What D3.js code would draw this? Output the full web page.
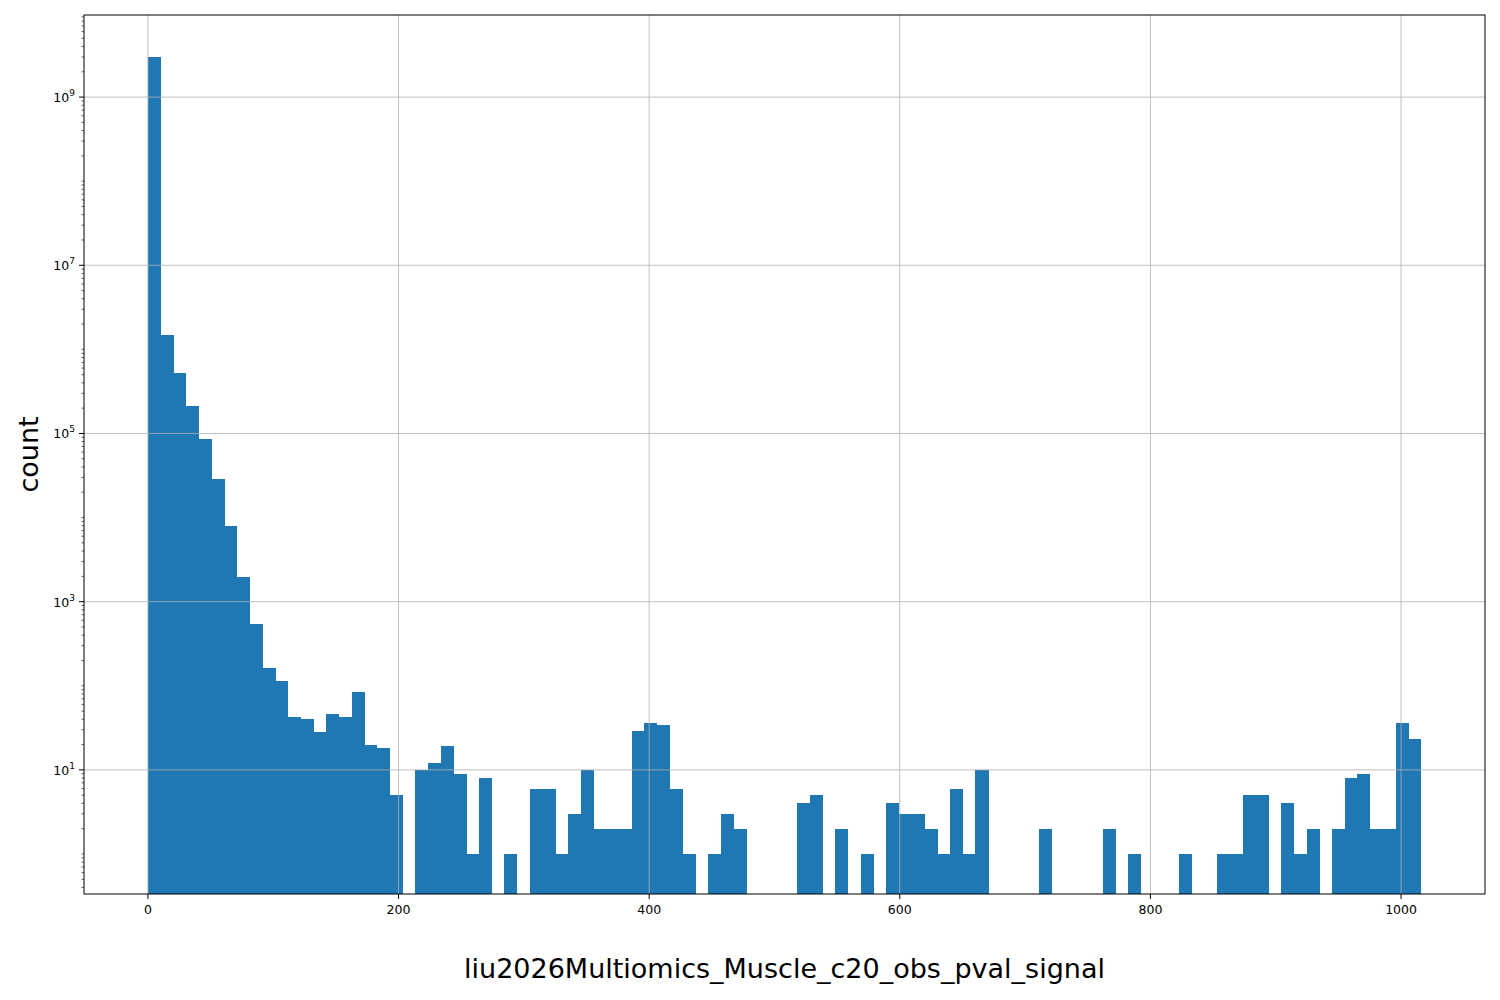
<!DOCTYPE html>
<html>
<head>
<meta charset="UTF-8">
<script src="https://cdn.jsdelivr.net/npm/d3@7"></script>
<style>body{margin:0;background:#fff}text{font-family:"DejaVu Sans",sans-serif}</style>
</head>
<body>
<script>
const binStart = 0, binWidth = 10.16;
const counts = [3e9,1.5e6,5.2e5,2.1e5,8.7e4,2.9e4,8000,1950,540,163,
 114,42,40,28,46,42,85,20,18,5,
 0,10,12,19,9,1,8,0,1,0,
 6,6,1,3,10,2,2,2,29,36,
 34,6,1,0,1,3,2,0,0,0,
 0,4,5,0,2,0,1,0,4,3,
 3,2,1,6,1,10,0,0,0,0,
 2,0,0,0,0,2,0,1,0,0,
 0,1,0,0,1,1,5,5,0,4,
 1,2,0,2,8,9,2,2,36,23];
const xTicks = [0,200,400,600,800,1000];
const yTicks = [1e1,1e3,1e5,1e7,1e9];

const W = 1500, H = 1000, m = {l:84, r:15, t:15, b:106};
const svg = d3.select('body').append('svg').attr('width', W).attr('height', H);
const x = d3.scaleLinear().domain([-51, 1067]).range([m.l, W - m.r]);
const y = d3.scaleLog().domain([10**-0.476, 10**9.976]).range([H - m.b, m.t]);

// bars
const bins = counts.map((c, i) => ({x0: binStart + i * binWidth, x1: binStart + (i + 1) * binWidth, c}));
svg.append('g').attr('shape-rendering', 'crispEdges')
  .selectAll('rect').data(bins.filter(d => d.c > 0)).join('rect')
  .attr('x', d => x(d.x0)).attr('width', d => x(d.x1) - x(d.x0) + 0.3)
  .attr('y', d => y(d.c)).attr('height', d => H - m.b - y(d.c))
  .attr('fill', '#1f77b4');

// grid (drawn above bars)
svg.append('g').selectAll('line').data(xTicks).join('line')
  .attr('x1', d => x(d)).attr('x2', d => x(d)).attr('y1', m.t).attr('y2', H - m.b)
  .attr('stroke', '#b0b0b0').attr('stroke-width', 0.8);
svg.append('g').selectAll('line').data(yTicks).join('line')
  .attr('y1', d => y(d)).attr('y2', d => y(d)).attr('x1', m.l).attr('x2', W - m.r)
  .attr('stroke', '#b0b0b0').attr('stroke-width', 0.8);

// frame
svg.append('rect').attr('x', m.l).attr('y', m.t).attr('width', W - m.l - m.r).attr('height', H - m.t - m.b)
  .attr('fill', 'none').attr('stroke', '#000').attr('stroke-width', 1);

// x ticks
const xt = svg.append('g').selectAll('g').data(xTicks).join('g').attr('transform', d => `translate(${x(d)},${H - m.b})`);
xt.append('line').attr('y2', 5).attr('stroke', '#000');
xt.append('text').attr('y', 20).attr('text-anchor', 'middle').attr('font-size', 12.5).text(d => d);

// y ticks (major + minor)
const minor = [];
for (let e = -1; e <= 10; e++) for (let k = 1; k <= 9; k++) { const v = k * 10 ** e; if (v >= y.domain()[0] && v <= y.domain()[1]) minor.push(v); }
svg.append('g').selectAll('line').data(minor.filter(v => !yTicks.includes(v))).join('line')
  .attr('x1', m.l - 2.5).attr('x2', m.l).attr('y1', d => y(d)).attr('y2', d => y(d)).attr('stroke', '#000').attr('stroke-width', 0.6);
const yt = svg.append('g').selectAll('g').data(yTicks).join('g').attr('transform', d => `translate(${m.l},${y(d)})`);
yt.append('line').attr('x2', -5).attr('stroke', '#000');
const lbl = yt.append('text').attr('x', -9).attr('y', 5).attr('text-anchor', 'end').attr('font-size', 12.5);
lbl.append('tspan').text('10');
lbl.append('tspan').attr('dy', -6).attr('font-size', 9).text(d => Math.round(Math.log10(d)));

// axis labels
svg.append('text').attr('x', (m.l + W - m.r) / 2).attr('y', 978).attr('text-anchor', 'middle')
  .attr('font-size', 27).text('liu2026Multiomics_Muscle_c20_obs_pval_signal');
svg.append('text').attr('transform', `translate(38,${(m.t + H - m.b) / 2}) rotate(-90)`).attr('text-anchor', 'middle')
  .attr('font-size', 27).text('count');
</script>
</body>
</html>
